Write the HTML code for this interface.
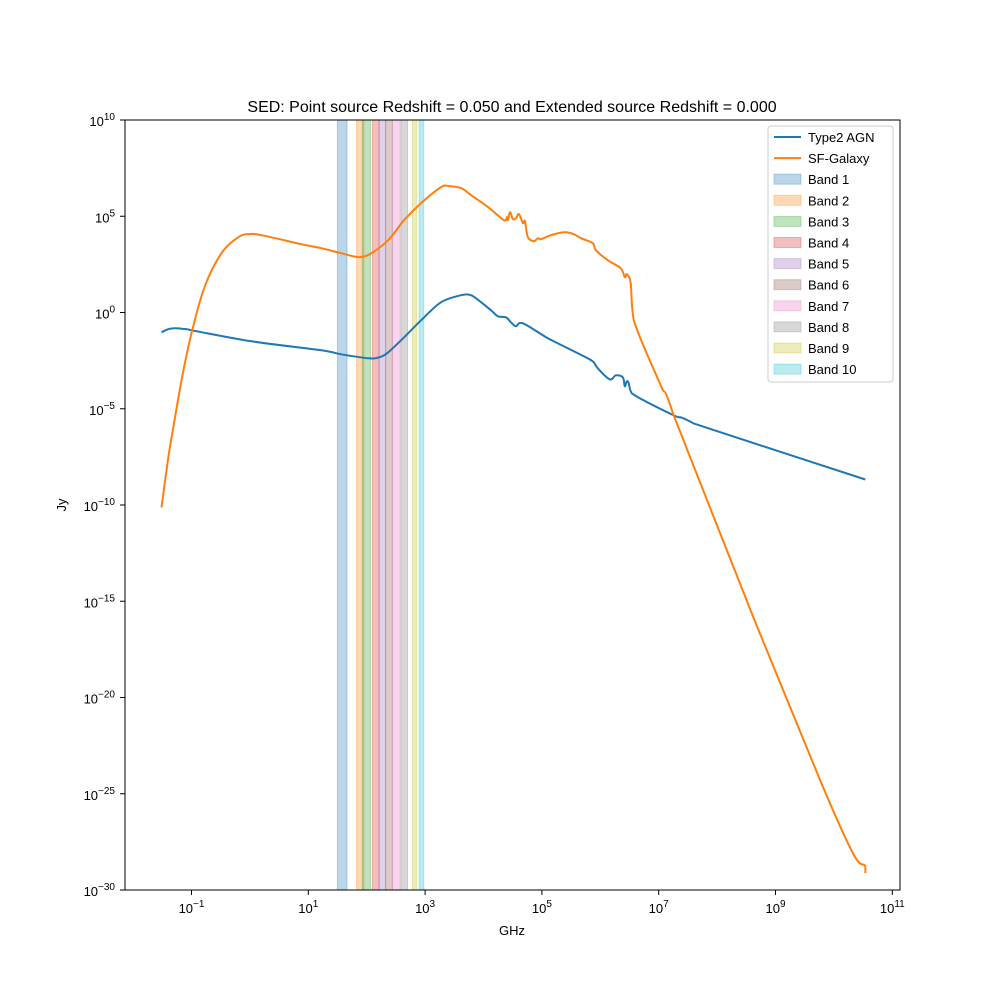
<!DOCTYPE html>
<html><head><meta charset="utf-8"><style>
body{margin:0;background:#fff}
svg text{font-family:"Liberation Sans","DejaVu Sans",sans-serif;fill:#000}
</style></head><body>
<svg id="chart" width="1000" height="1000" viewBox="0 0 1000 1000" xmlns="http://www.w3.org/2000/svg">
<rect x="0" y="0" width="1000" height="1000" fill="#fff"/>
<text x="512" y="112" font-size="16" text-anchor="middle">SED: Point source Redshift = 0.050 and Extended source Redshift = 0.000</text>
<g id="bands"></g>
<g id="series"></g>
<rect x="125" y="120" width="775" height="770" fill="none" stroke="#000" stroke-width="1"/>
<g id="xticks"></g>
<g id="yticks"></g>
<text x="512" y="935" font-size="13" text-anchor="middle">GHz</text>
<text x="66" y="505" font-size="13" text-anchor="middle" transform="rotate(-90 66 505)">Jy</text>
<g id="legend"></g>
</svg>
<script>
const bandNames = ["Band 1","Band 2","Band 3","Band 4","Band 5","Band 6","Band 7","Band 8","Band 9","Band 10"];
const bandLow = [31.5,67,84,125,163,211,275,385,602,787];
const bandHigh = [46,90,116,163,211,275,373,500,720,950];
const bandColors = ["#1f77b4","#ff7f0e","#2ca02c","#d62728","#9467bd","#8c564b","#e377c2","#7f7f7f","#bcbd22","#17becf"];
const xTicks = [-1,1,3,5,7,9,11];
const yTicks = [10,5,0,-5,-10,-15,-20,-25,-30];
const agnLogNu = [-1.513,-1.40,-1.291,-1.15,-1.0,0.026,1.222,1.564,2.026,2.214,2.368,2.641,2.932,3.274,3.615,3.786,3.957,4.128,4.248,4.385,4.470,4.556,4.675,5.103,5.444,5.786,5.889,5.957,6.162,6.265,6.385,6.419,6.453,6.487,6.538,7.256,7.598,10.538];
const agnLogF = [-1.027,-0.87,-0.819,-0.85,-0.923,-1.495,-1.963,-2.172,-2.380,-2.328,-2.068,-1.287,-0.403,0.533,0.897,0.897,0.533,0.117,-0.195,-0.247,-0.507,-0.715,-0.559,-1.339,-1.859,-2.380,-2.588,-2.900,-3.472,-3.264,-3.368,-3.836,-3.576,-3.680,-4.200,-5.345,-5.761,-8.674];
const sfgLogNu = [-1.513,-1.40,-1.291,-1.15,-1.0,-0.778,-0.487,-0.197,-0.026,0.197,0.880,1.222,1.564,1.872,2.077,2.368,2.641,2.932,3.274,3.410,3.615,3.786,4.077,4.350,4.402,4.420,4.453,4.504,4.556,4.607,4.675,4.709,4.761,4.863,4.932,4.983,5.154,5.376,5.547,5.667,5.872,5.923,6.128,6.350,6.419,6.453,6.521,6.573,7.034,7.256,8.624,9.769,10.333,10.538,10.539];
const sfgLogF = [-10.13,-7.6,-5.605,-3.2,-1.079,1.313,3.082,3.914,4.070,4.018,3.550,3.342,3.082,2.874,3.082,3.758,4.798,5.683,6.515,6.567,6.463,6.099,5.475,4.798,4.955,4.798,5.215,4.850,4.902,5.110,4.642,4.746,3.914,3.706,3.862,3.810,4.018,4.174,4.070,3.862,3.602,3.238,2.718,2.302,1.834,1.990,1.522,-0.403,-3.784,-5.345,-15.85,-24.33,-28.13,-28.75,-29.12];

const NS="http://www.w3.org/2000/svg";
function X(l){return 191.5+(l+1)*58.4;}
function Y(l){return 120+(10-l)*19.25;}
function mk(tag,attrs,parent){const e=document.createElementNS(NS,tag);for(const k in attrs)e.setAttribute(k,attrs[k]);parent.appendChild(e);return e;}

const gb=document.getElementById('bands');
bandNames.forEach((n,i)=>{
  const x0=X(Math.log10(bandLow[i])), x1=X(Math.log10(bandHigh[i]));
  const r=mk('rect',{x:x0,y:120,width:x1-x0,height:770,fill:bandColors[i],'fill-opacity':0.3,stroke:bandColors[i],'stroke-opacity':0.3},gb);
  
  
});

const gs=document.getElementById('series');
function line(xs,ys,color,name){
  const P=xs.map((v,i)=>[X(v),Y(ys[i])]);
  let d='M'+P[0][0].toFixed(1)+','+P[0][1].toFixed(1);
  for(let i=0;i<P.length-1;i++){
    const p0=P[Math.max(0,i-1)],p1=P[i],p2=P[i+1],p3=P[Math.min(P.length-1,i+2)];
    const c1=[p1[0]+(p2[0]-p0[0])/6,p1[1]+(p2[1]-p0[1])/6];
    const c2=[p2[0]-(p3[0]-p1[0])/6,p2[1]-(p3[1]-p1[1])/6];
    // avoid x backtracking
    c1[0]=Math.min(Math.max(c1[0],p1[0]),p2[0]);c2[0]=Math.min(Math.max(c2[0],p1[0]),p2[0]);
    d+='C'+c1[0].toFixed(1)+','+c1[1].toFixed(1)+' '+c2[0].toFixed(1)+','+c2[1].toFixed(1)+' '+p2[0].toFixed(1)+','+p2[1].toFixed(1);
  }
  const p=mk('path',{d:d,fill:'none',stroke:color,'stroke-width':2,'stroke-linejoin':'round'},gs);
  
  
}
line(agnLogNu,agnLogF,'#1f77b4','type2-agn-line');
line(sfgLogNu,sfgLogF,'#ff7f0e','sf-galaxy-line');

const gx=document.getElementById('xticks');
xTicks.forEach(t=>{
  const x=X(t);
  mk('line',{x1:x,y1:890,x2:x,y2:895,stroke:'#000'},gx);
  const tx=mk('text',{x:x,y:913,'font-size':13,'text-anchor':'middle'},gx);
  
  
  tx.innerHTML='10<tspan font-size="10" dy="-6">'+(t<0?'\u2212'+(-t):t)+'</tspan>';
});
const gy=document.getElementById('yticks');
yTicks.forEach(t=>{
  const y=Y(t);
  mk('line',{x1:120,y1:y,x2:125,y2:y,stroke:'#000'},gy);
  const tx=mk('text',{x:115,y:y+6,'font-size':13,'text-anchor':'end'},gy);
  
  
  tx.innerHTML='10<tspan font-size="10" dy="-6">'+(t<0?'\u2212'+(-t):t)+'</tspan>';
});

const gl=document.getElementById('legend');
mk('rect',{x:768,y:126,width:125,height:256,rx:3,fill:'#fff','fill-opacity':0.8,stroke:'#ccc'},gl);
const entries=[['Type2 AGN','line','#1f77b4'],['SF-Galaxy','line','#ff7f0e']].concat(bandNames.map((n,i)=>[n,'patch',bandColors[i]]));
entries.forEach((e,i)=>{
  const y=137+i*21.1;
  const g=mk('g',{},gl);
  
  
  if(e[1]==='line') mk('line',{x1:774,y1:y,x2:801,y2:y,stroke:e[2],'stroke-width':2},g);
  else mk('rect',{x:774,y:y-5,width:27,height:10,fill:e[2],'fill-opacity':0.3,stroke:e[2],'stroke-opacity':0.3},g);
  const t=mk('text',{x:808,y:y+5,'font-size':13},g);
  t.textContent=e[0];
});
</script>
</body></html>
